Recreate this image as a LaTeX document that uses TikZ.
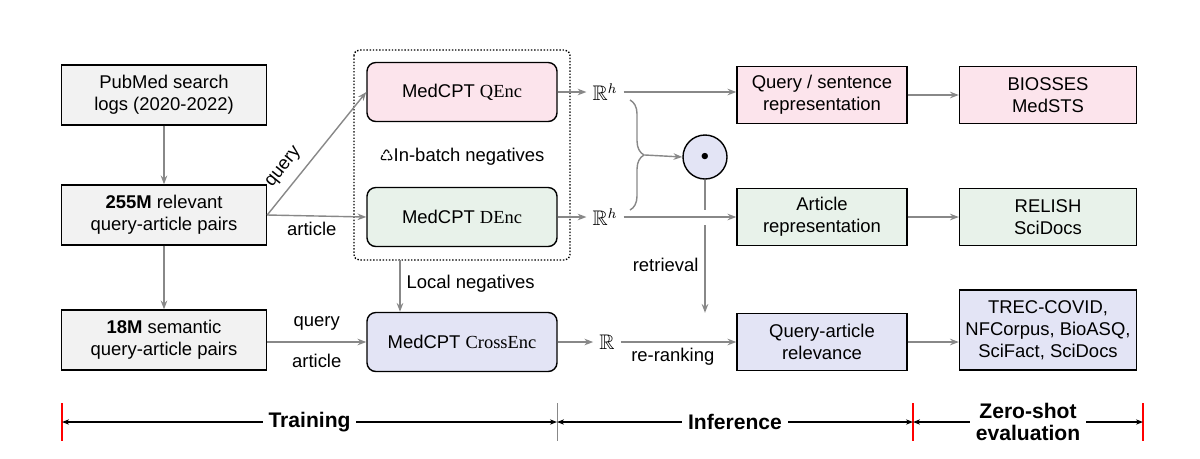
\documentclass[tikz,border=0pt]{standalone}
\usepackage{fontspec}
\setmainfont{Liberation Sans}
\newfontfamily\encf{Liberation Serif}
\newfontfamily\symf{DejaVu Sans}
\usepackage{amssymb}
\usetikzlibrary{arrows.meta,decorations.pathreplacing}
\definecolor{qpink}{HTML}{FCE4EC}
\definecolor{dgreen}{HTML}{E8F2EA}
\definecolor{clav}{HTML}{E3E4F5}
\definecolor{lgrey}{HTML}{F2F2F2}
\definecolor{agrey}{HTML}{888888}
\tikzset{
  box/.style={draw, thick, minimum width=205*0.02cm, minimum height=60*0.02cm, align=center, font=\fontsize{10.5}{12.5}\selectfont},
  enc/.style={draw, thick, rounded corners=5pt, minimum width=190*0.02cm, minimum height=59*0.02cm, font=\fontsize{10.5}{12.5}\selectfont},
  rbox/.style={draw, thick, minimum width=170*0.02cm, minimum height=57*0.02cm, align=center, font=\fontsize{10.5}{12.5}\selectfont},
  ebox/.style={draw, thick, minimum width=177*0.02cm, minimum height=57*0.02cm, align=center, font=\fontsize{10.5}{12.5}\selectfont},
  lbl/.style={font=\fontsize{10.5}{12.5}\selectfont},
  flow/.style={agrey, thick, -{Stealth[length=5pt]}},
  span/.style={thick, {Stealth[length=4pt]}-{Stealth[length=4pt]}},
}
\begin{document}
\begin{tikzpicture}[x=0.02cm, y=-0.02cm]
    \useasboundingbox (0,0) rectangle (1200,458);

    % training inputs
    \node[box, fill=lgrey] (logs) at (164,95) {PubMed search\\logs (2020-2022)};
    \node[box, fill=lgrey] (pairs) at (164,215) {\textbf{255M} relevant\\query-article pairs};
    \node[box, fill=lgrey] (sem) at (164,340) {\textbf{18M} semantic\\query-article pairs};

    % encoders
    \draw[densely dotted, thick, rounded corners=3pt] (354,50) rectangle (570,260);
    \node[enc, fill=qpink] (qenc) at (462,92) {MedCPT {\encf QEnc}};
    \node[enc, fill=dgreen] (denc) at (462,217) {MedCPT {\encf DEnc}};
    \node[enc, fill=clav] (cenc) at (462,342) {MedCPT {\encf CrossEnc}};
    \node[lbl] (inb) at (462,157) {{\symf\fontsize{9}{10}\selectfont ♺}In-batch negatives};
    \coordinate (dotb) at (400,260);

    % outputs
    \node[lbl, font=\large] (rq) at (605,92) {$\mathbb{R}^h$};
    \node[lbl, font=\large] (rd) at (605,217) {$\mathbb{R}^h$};
    \node[lbl, font=\large] (rc) at (607,342) {$\mathbb{R}$};
    \node[draw, thick, circle, fill=clav, minimum size=44*0.02cm, inner sep=0pt, font=\small] (dot) at (705,157) {$\bullet$};

    % inference
    \node[rbox, fill=qpink] (qrep) at (822,95) {Query / sentence\\representation};
    \node[rbox, fill=dgreen] (arep) at (822,217) {Article\\representation};
    \node[rbox, fill=clav] (rel) at (822,342) {Query-article\\relevance};

    % evaluation
    \node[ebox, fill=qpink] (sts) at (1048,95) {BIOSSES\\MedSTS};
    \node[ebox, fill=dgreen] (rls) at (1048,217) {RELISH\\SciDocs};
    \node[ebox, fill=clav, minimum height=80*0.02cm] (trec) at (1048,330) {TREC-COVID,\\NFCorpus, BioASQ,\\SciFact, SciDocs};

    % connectors
    \draw[flow] (pairs.east) -- node[lbl, text=black, sloped, above=4pt, pos=0.3, inner sep=1pt] {query} (qenc.west);
    \draw[flow] (logs) -- (pairs);
    \draw[flow] (pairs) -- (sem);
    \draw[flow] (pairs.east) -- node[lbl, text=black, below, pos=0.45] {article} (denc.west);
    \draw[flow] (sem.east |- cenc) -- node[lbl, text=black, above=3pt] {query} node[lbl, text=black, below=3pt] {article} (cenc.west);
    \draw[flow] (dotb) -- node[lbl, text=black, right, pos=0.45] {Local negatives} (dotb |- cenc.north);
    \draw[flow] (qenc) -- (rq);
    \draw[flow] (denc) -- (rd);
    \draw[flow] (cenc) -- (rc);
    \draw[flow] (rq.east) -- (qrep.west |- rq);
    \draw[flow] (rd.east) -- (arep.west |- rd);
    \draw[flow] (rc.east) -- node[lbl, text=black, below, pos=0.45] {re-ranking} (rel.west |- rc);
    \draw[agrey, thick, decorate, decoration={brace, amplitude=8pt}] (630,100) -- (630,210);
    \draw[flow] (645,155) -- (dot.west);
    \draw[agrey, thick] (dot.south) -- (705,210);
    \coordinate (hop) at (705,225);
    \draw[flow] (hop) -- node[lbl, text=black, left, pos=0.45] {retrieval} (hop |- rel.north);
    \draw[flow] (qrep) -- (sts);
    \draw[flow] (arep) -- (rls);
    \draw[flow] (rel) -- (rel -| trec.west);

    % stages
    \coordinate (t0) at (62,422);
    \coordinate (t1) at (557,422);
    \coordinate (t2) at (913,422);
    \coordinate (t3) at (1143,422);
    \draw[red, thick] (62,403) -- (62,441) (913,403) -- (913,441) (1143,403) -- (1143,441);
    \draw[agrey] (557,403) -- (557,441);
    \draw[span] (t0) -- node[fill=white, font=\bfseries\fontsize{12}{13}\selectfont] {Training} (t1);
    \draw[span] (t1) -- node[fill=white, font=\bfseries\fontsize{12}{13}\selectfont] {Inference} (t2);
    \draw[span] (t2) -- node[fill=white, align=center, font=\bfseries\fontsize{12}{13}\selectfont] {Zero-shot\\evaluation} (t3);
\end{tikzpicture}
\end{document}
